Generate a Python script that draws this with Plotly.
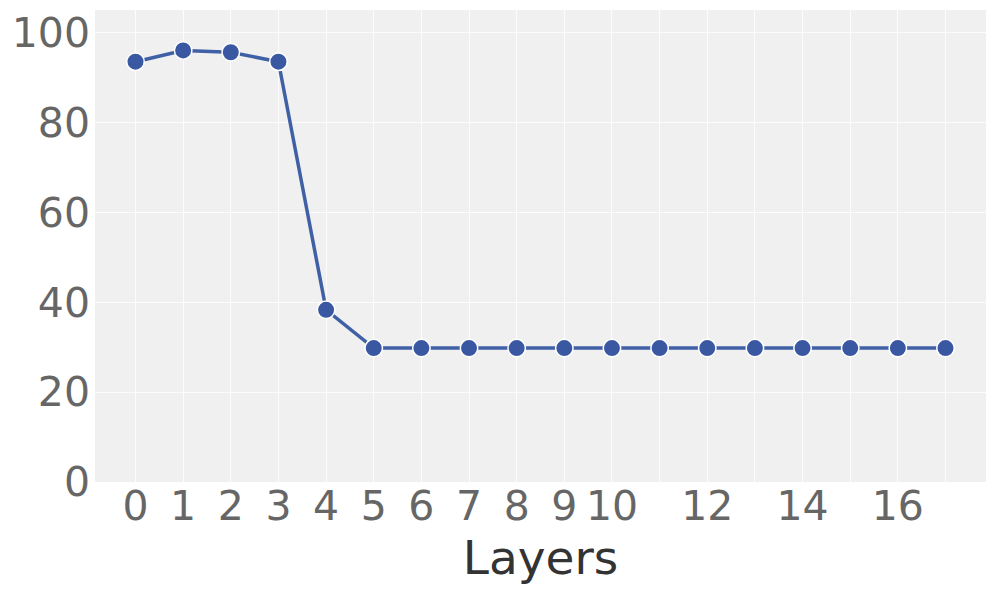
import plotly.graph_objects as go

layers = list(range(18))
values = [93.5, 96.0, 95.6, 93.5, 38.3, 29.8, 29.8, 29.8, 29.8, 29.8,
          29.8, 29.8, 29.8, 29.8, 29.8, 29.8, 29.8, 29.8]
x_tickvals = list(range(18))
x_ticktext = ["0", "1", "2", "3", "4", "5", "6", "7", "8", "9", "10",
              "", "12", "", "14", "", "16", ""]
y_tickvals = [0, 20, 40, 60, 80, 100]

fig = go.Figure()
fig.add_trace(go.Scatter(
    x=layers, y=values, mode="lines+markers",
    line=dict(color="#4060a6", width=3.5),
    marker=dict(size=17.5, color="#3a58a2", line=dict(color="white", width=1.5)),
    showlegend=False,
))

# page body has an 8px margin, so the figure is sized/offset to compensate
fig.update_layout(
    width=988, height=583,
    margin=dict(l=87, r=10, t=2, b=109),
    paper_bgcolor="white", plot_bgcolor="#f0f0f0",
    font=dict(family="DejaVu Sans", size=41, color="#666666"),
)
fig.update_xaxes(
    range=[-0.85, 17.85], tickvals=x_tickvals, ticktext=x_ticktext,
    showgrid=True, gridcolor="rgba(255,255,255,0.8)", gridwidth=1,
    zeroline=False, showline=False, automargin=False,
    ticks="", ticklabelstandoff=-4,
    title=dict(text="Layers", font=dict(size=47, color="#333333"), standoff=2),
)
fig.update_yaxes(
    range=[0, 105], tickvals=y_tickvals,
    showgrid=True, gridcolor="rgba(255,255,255,0.8)", gridwidth=1,
    zeroline=False, showline=False, automargin=False,
    ticks="", ticklabelstandoff=4,
)

fig.write_html("out.html")
